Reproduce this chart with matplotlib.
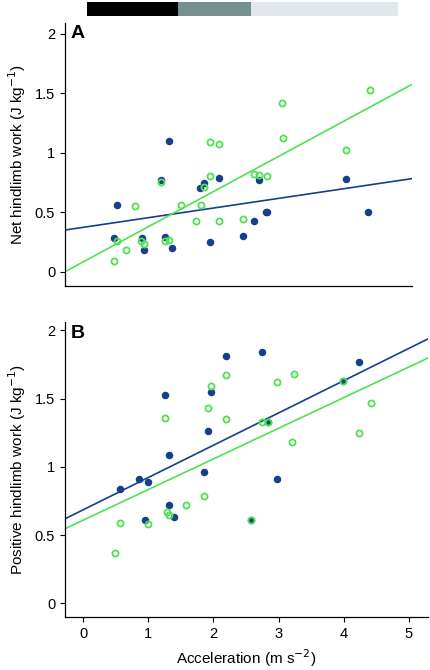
import matplotlib
matplotlib.use('Agg')
import matplotlib.pyplot as plt
import numpy as np

plt.rcParams['font.family'] = ['Liberation Sans', 'DejaVu Sans']
plt.rcParams['font.size'] = 10.5
plt.rcParams['xtick.direction'] = 'out'
plt.rcParams['ytick.direction'] = 'out'
plt.rcParams['xtick.major.size'] = 3.5
plt.rcParams['ytick.major.size'] = 3.5
plt.rcParams['xtick.major.pad'] = 4
plt.rcParams['axes.linewidth'] = 0.9

navy = '#163f8c'
green = '#4ee34e'

# panel A: net hindlimb work
a_blue_x = [0.48, 0.52, 0.90, 0.94, 1.20, 1.25, 1.32, 1.36, 1.80, 1.86,
            1.95, 2.08, 2.46, 2.62, 2.70, 2.81, 2.83, 4.03, 4.37]
a_blue_y = [0.28, 0.56, 0.28, 0.18, 0.77, 0.29, 1.10, 0.20, 0.70, 0.745,
            0.25, 0.79, 0.30, 0.43, 0.77, 0.50, 0.50, 0.78, 0.50]
a_green_x = [0.48, 0.52, 0.66, 0.80, 0.89, 0.94, 1.20, 1.25, 1.32, 1.50,
             1.74, 1.81, 1.86, 1.95, 1.95, 2.08, 2.08, 2.46, 2.62, 2.70,
             2.83, 3.06, 3.07, 4.03, 4.41]
a_green_y = [0.09, 0.26, 0.18, 0.55, 0.26, 0.23, 0.75, 0.26, 0.27, 0.56,
             0.43, 0.56, 0.71, 0.80, 1.09, 1.07, 0.43, 0.44, 0.82, 0.81,
             0.80, 1.42, 1.12, 1.02, 1.53]
a_fit_blue = (0.081, 0.373)   # slope, intercept
a_fit_green = (0.295, 0.083)

# panel B: positive hindlimb work
b_blue_x = [0.57, 0.85, 0.95, 0.99, 1.26, 1.32, 1.32, 1.40, 1.85, 1.91,
            1.96, 2.19, 2.58, 2.75, 2.84, 2.98, 3.99, 4.23]
b_blue_y = [0.84, 0.91, 0.61, 0.89, 1.53, 1.09, 0.72, 0.63, 0.96, 1.26,
            1.55, 1.81, 0.61, 1.84, 1.33, 0.91, 1.63, 1.77]
b_green_x = [0.49, 0.57, 0.99, 1.26, 1.29, 1.32, 1.58, 1.85, 1.91, 1.96,
             2.19, 2.19, 2.58, 2.75, 2.84, 2.98, 3.21, 3.23, 3.99, 4.23,
             4.42]
b_green_y = [0.37, 0.59, 0.58, 1.36, 0.67, 0.65, 0.72, 0.79, 1.43, 1.59,
             1.67, 1.35, 0.61, 1.33, 1.33, 1.62, 1.18, 1.68, 1.63, 1.25,
             1.47]
b_fit_blue = (0.2366, 0.686)
b_fit_green = (0.2245, 0.610)

# top bar segments (acceleration ranges)
bar_edges = [0.06, 1.46, 2.58, 4.83]
bar_colors = ['#000000', '#75908f', '#e1e8ec']

yticks = [0, 0.5, 1, 1.5, 2]
ytick_labels = ['0', '0.5', '1', '1.5', '2']

fig = plt.figure(figsize=(4.3, 6.7), dpi=100)
axA = fig.add_axes([0.151, 0.573, 0.807, 0.393])
axB = fig.add_axes([0.151, 0.079, 0.844, 0.440])
axBar = fig.add_axes([0.151, 0.976, 0.807, 0.021])


def draw_panel(ax, bx, by, gx, gy, fit_b, fit_g, xlim, ylim, letter, ylabel):
    ax.plot(bx, by, 'o', color=navy, ms=4.4, mec=navy, zorder=3)
    ax.plot(gx, gy, 'o', mfc='none', mec=green, mew=1.3, ms=4.4, zorder=4)
    xs = np.array(xlim)
    ax.plot(xs, fit_b[0] * xs + fit_b[1], color=navy, lw=1.2, zorder=2)
    ax.plot(xs, fit_g[0] * xs + fit_g[1], color=green, lw=1.2, zorder=2)
    ax.set_xlim(*xlim)
    ax.set_ylim(*ylim)
    ax.set_yticks(yticks)
    ax.set_yticklabels(ytick_labels)
    ax.spines['top'].set_visible(False)
    ax.spines['right'].set_visible(False)
    ax.set_ylabel(ylabel, fontsize=11, labelpad=5)
    ax.text(0.015, 0.99, letter, transform=ax.transAxes, fontsize=14,
            fontweight='bold', va='top', ha='left')


draw_panel(axA, a_blue_x, a_blue_y, a_green_x, a_green_y, a_fit_blue, a_fit_green,
           (-0.28, 5.05), (-0.12, 2.09), 'A', 'Net hindlimb work (J kg$^{-1}$)')
axA.set_xticks([])

draw_panel(axB, b_blue_x, b_blue_y, b_green_x, b_green_y, b_fit_blue, b_fit_green,
           (-0.28, 5.29), (-0.10, 2.06), 'B', 'Positive hindlimb work (J kg$^{-1}$)')
axB.set_xticks([0, 1, 2, 3, 4, 5])
axB.set_xlabel('Acceleration (m s$^{-2}$)', fontsize=11)

for i in range(len(bar_colors)):
    axBar.barh(0, bar_edges[i + 1] - bar_edges[i], left=bar_edges[i],
               height=1, color=bar_colors[i])
axBar.set_xlim(-0.28, 5.05)
axBar.set_ylim(-0.5, 0.5)
axBar.axis('off')

fig.savefig('out.png', dpi=100)
